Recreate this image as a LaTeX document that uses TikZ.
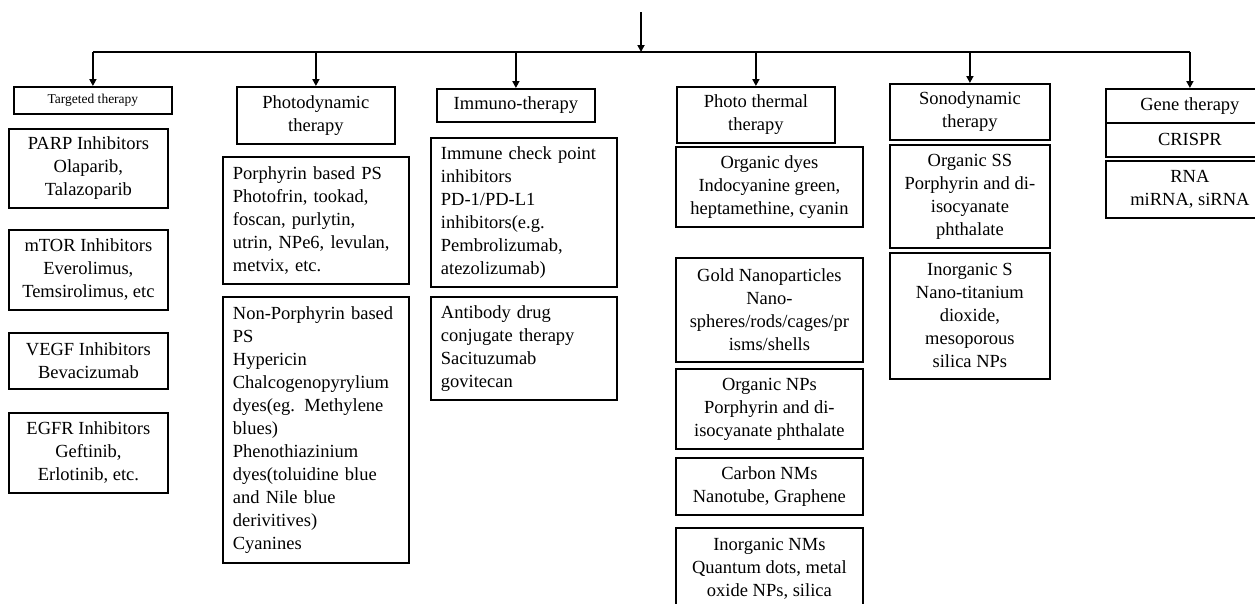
\documentclass[tikz,border=0pt]{standalone}
\usepackage{fontspec}
\setmainfont{Liberation Serif}
\usetikzlibrary{arrows.meta}

\tikzset{
  box/.style={draw, line width=1.8pt, anchor=north west, align=center, inner sep=3pt,
    font=\fontsize{18.5}{23}\selectfont},
  leftbox/.style={box, align=left, text width=166pt, inner xsep=10pt},
}

\begin{document}
\begin{tikzpicture}[x=1pt,y=-1pt,line width=1.8pt,>={Triangle[length=7pt,width=7pt]}]

% page frame (cuts off the boxes at the bottom and right)
\clip (0,0) rectangle (1255,603);

% feed arrow from the top and the bus line
\coordinate (src) at (641,12);
\coordinate (bus) at (641,52);

% targeted therapy
\node[box, minimum width=158, minimum height=27, font=\fontsize{13.5}{16}\selectfont] (targeted) at (13,86) {Targeted therapy};
\node[box, minimum width=159, minimum height=79] (parp) at (8,128) {PARP Inhibitors\\ Olaparib,\\ Talazoparib};
\node[box, minimum width=159, minimum height=80] (mtor) at (8,229) {mTOR Inhibitors\\ Everolimus,\\ Temsirolimus, etc};
\node[box, minimum width=159, minimum height=56] (vegf) at (8,332) {VEGF Inhibitors\\ Bevacizumab};
\node[box, minimum width=159, minimum height=80] (egfr) at (8,412) {EGFR Inhibitors\\ Geftinib,\\ Erlotinib, etc.};

% photodynamic therapy
\node[box, minimum width=158, minimum height=57] (photodyn) at (236,86) {Photodynamic\\ therapy};
\node[leftbox, minimum height=127] (porph) at (222,156) {Porphyrin based PS\\ Photofrin, tookad,\\ foscan, purlytin,\\ utrin, NPe6, levulan,\\ metvix, etc.};
\node[leftbox, minimum height=266] (nonporph) at (222,296) {Non-Porphyrin based\\ PS\\ Hypericin\\ Chalcogenopyrylium\\ dyes(eg. Methylene\\ blues)\\ Phenothiazinium\\ dyes(toluidine blue\\ and Nile blue\\ derivitives)\\ Cyanines};

% immunotherapy
\node[box, minimum width=158, minimum height=33] (immuno) at (436,88) {Immuno-therapy};
\node[leftbox, minimum height=149] (checkpoint) at (430,137) {Immune check point\\ inhibitors\\ PD-1/PD-L1\\ inhibitors(e.g.\\ Pembrolizumab,\\ atezolizumab)};
\node[leftbox, minimum height=103] (antibody) at (430,296) {Antibody drug\\ conjugate therapy\\ Sacituzumab\\ govitecan};

% photo thermal therapy
\node[box, minimum width=158, minimum height=56] (thermal) at (676,86) {Photo thermal\\ therapy};
\node[box, minimum width=187, minimum height=80] (dyes) at (675,146) {Organic dyes\\ Indocyanine green,\\ heptamethine, cyanin};
\node[box, minimum width=187, minimum height=104] (gold) at (675,257) {Gold Nanoparticles\\ Nano-\\ spheres/rods/cages/pr\\ isms/shells};
\node[box, minimum width=187, minimum height=80] (orgnp) at (675,368) {Organic NPs\\ Porphyrin and di-\\ isocyanate phthalate};
\node[box, minimum width=187, minimum height=57] (carbon) at (675,457) {Carbon NMs\\ Nanotube, Graphene};
\node[box, minimum width=187, minimum height=82] (inorgnm) at (675,527) {Inorganic NMs\\ Quantum dots, metal\\ oxide NPs, silica};

% sonodynamic therapy
\node[box, minimum width=160, minimum height=56] (sono) at (889,83) {Sonodynamic\\ therapy};
\node[box, minimum width=160, minimum height=103] (orgss) at (889,144) {Organic SS\\ Porphyrin and di-\\ isocyanate\\ phthalate};
\node[box, minimum width=160, minimum height=126] (inorgs) at (889,252) {Inorganic S\\ Nano-titanium\\ dioxide,\\ mesoporous\\ silica NPs};

% gene therapy
\node[box, minimum width=168, minimum height=34] (gene) at (1105,88) {Gene therapy};
\node[box, minimum width=168, minimum height=34] (crispr) at (1105,122) {CRISPR};
\node[box, minimum width=168, minimum height=57] (rna) at (1105,160) {RNA\\ miRNA, siRNA};

% connectors
\draw[->] (src) -- (bus);
\draw (targeted.north |- bus) -- (gene.north |- bus);
\foreach \n in {targeted,photodyn,immuno,thermal,sono,gene}
  \draw[->] (\n.north |- bus) -- (\n.north);

\end{tikzpicture}
\end{document}
